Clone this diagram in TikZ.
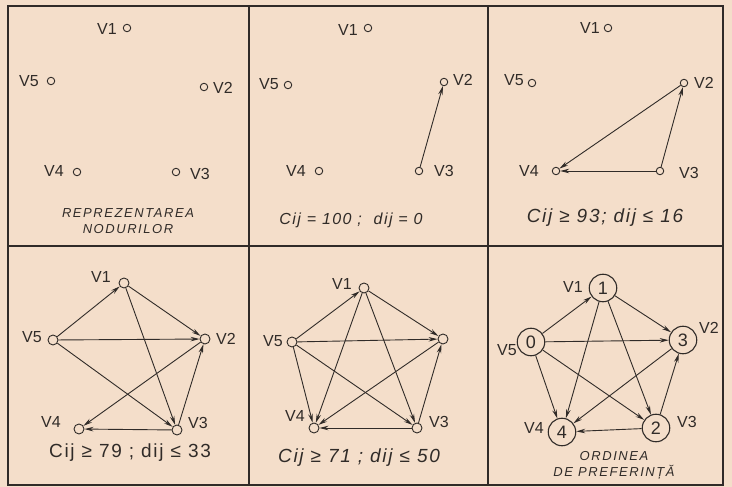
\documentclass[tikz,border=0pt]{standalone}
\usepackage{fontspec}
\setmainfont{Liberation Sans}
\newfontfamily\capfont[LetterSpace=12]{Liberation Sans}
\newfontfamily\formfont[LetterSpace=9]{Liberation Sans}
\usetikzlibrary{arrows.meta}
\definecolor{paper}{RGB}{244,222,202}
\definecolor{ink}{RGB}{48,43,40}
\tikzset{
 pt/.style={circle,draw=ink,line width=0.9pt,inner sep=0pt,minimum size=7.5pt,fill=paper},
 ptb/.style={pt,minimum size=10pt},
 big/.style={circle,draw=ink,line width=1.1pt,inner sep=0pt,minimum size=27.5pt,fill=paper,font=\fontsize{18}{18}\selectfont,text=ink},
 lbl/.style={text=ink,inner sep=0pt,font=\fontsize{16}{16}\selectfont},
 arr/.style={draw=ink,line width=0.9pt,-{Stealth[length=9pt,width=4.5pt]}},
 captext/.style={text=ink,font=\capfont\itshape\fontsize{13}{16}\selectfont,align=center},
 form/.style={text=ink,font=\formfont\itshape\fontsize{19}{19}\selectfont},
 frame/.style={draw=ink,line width=2pt}
}
\begin{document}
\begin{tikzpicture}[x=1pt,y=-1pt]
\fill[paper] (0,0) rectangle (732,487);
\useasboundingbox (0,0) rectangle (732,487);
% frame
\draw[frame] (8,6) rectangle (723,485);
\draw[frame] (8,246) -- (723,246);
\draw[frame] (249,6) -- (249,485);
\draw[frame] (488,6) -- (488,485);

% ---------- panel 1
\node[pt] (a1) at (127,28) {};
\node[pt] (a5) at (51,81) {};
\node[pt] (a2) at (204,87) {};
\node[pt] (a4) at (77,172) {};
\node[pt] (a3) at (176,172) {};
\node[lbl] (la1) at (107,29) {V1};
\node[lbl] (la5) at (29,81) {V5};
\node[lbl] (la2) at (223,88) {V2};
\node[lbl] (la4) at (54,171) {V4};
\node[lbl] (la3) at (200,174) {V3};
\node[captext] (capa) at (128,221) {REPREZENTAREA\\NODURILOR};

% ---------- panel 2
\node[pt] (b1) at (368,28) {};
\node[pt] (b5) at (288,85) {};
\node[pt] (b2) at (444,82) {};
\node[pt] (b4) at (319,171) {};
\node[pt] (b3) at (419,171) {};
\node[lbl] (lb1) at (348,30) {V1};
\node[lbl] (lb5) at (269,84) {V5};
\node[lbl] (lb2) at (463,80) {V2};
\node[lbl] (lb4) at (296,171) {V4};
\node[lbl] (lb3) at (444,171) {V3};
\draw[arr] (b3) -- (b2);
\node[form,font=\formfont\itshape\fontsize{16}{16}\selectfont] (fb) at (351,220) {Cij = 100 ;\ \ dij = 0};

% ---------- panel 3
\node[pt] (c1) at (608,28) {};
\node[pt] (c5) at (532,83) {};
\node[pt] (c2) at (684,83) {};
\node[pt] (c4) at (556,171) {};
\node[pt] (c3) at (660,171) {};
\node[lbl] (lc1) at (590,28) {V1};
\node[lbl] (lc5) at (514,80) {V5};
\node[lbl] (lc2) at (704,83) {V2};
\node[lbl] (lc4) at (529,171) {V4};
\node[lbl] (lc3) at (689,173) {V3};
\draw[arr] (c3) -- (c2);
\draw[arr] (c2) -- (c4);
\draw[arr] (c3) -- (c4);
\node[form] (fc) at (605,218) {Cij ≥ 93; dij ≤ 16};

% ---------- panel 4
\node[ptb] (d1) at (124,283) {};
\node[ptb] (d5) at (53,340) {};
\node[ptb] (d2) at (205,339) {};
\node[ptb] (d4) at (79,429) {};
\node[ptb] (d3) at (177,430) {};
\node[lbl] (ld1) at (101,277) {V1};
\node[lbl] (ld5) at (32,337) {V5};
\node[lbl] (ld2) at (226,339) {V2};
\node[lbl] (ld4) at (51,422) {V4};
\node[lbl] (ld3) at (198,423) {V3};
\draw[arr] (d5) -- (d1);
\draw[arr] (d1) -- (d2);
\draw[arr] (d5) -- (d2);
\draw[arr] (d1) -- (d3);
\draw[arr] (d5) -- (d3);
\draw[arr] (d3) -- (d2);
\draw[arr] (d2) -- (d4);
\draw[arr] (d3) -- (d4);
\node[form,font=\formfont\fontsize{19}{19}\selectfont] (fd) at (130,453) {Cij ≥ 79 ; dij ≤ 33};

% ---------- panel 5
\node[ptb] (e1) at (364,288) {};
\node[ptb] (e5) at (292,342) {};
\node[ptb] (e2) at (443,339) {};
\node[ptb] (e4) at (314,428) {};
\node[ptb] (e3) at (417,428) {};
\node[lbl] (le1) at (342,284) {V1};
\node[lbl] (le5) at (273,341) {V5};
\node[lbl] (le4) at (295,416) {V4};
\node[lbl] (le3) at (439,422) {V3};
\draw[arr] (e5) -- (e1);
\draw[arr] (e1) -- (e2);
\draw[arr] (e5) -- (e2);
\draw[arr] (e1) -- (e3);
\draw[arr] (e1) -- (e4);
\draw[arr] (e5) -- (e4);
\draw[arr] (e5) -- (e3);
\draw[arr] (e3) -- (e2);
\draw[arr] (e2) -- (e4);
\draw[arr] (e3) -- (e4);
\node[form] (fe) at (359,458) {Cij ≥ 71 ;\ dij ≤ 50};

% ---------- panel 6
\node[big] (f1) at (603,288) {1};
\node[big] (f5) at (531,342) {0};
\node[big] (f2) at (683,340) {3};
\node[big] (f4) at (562,432) {4};
\node[big] (f3) at (656,428) {2};
\node[lbl] (lf1) at (573,287) {V1};
\node[lbl] (lf5) at (507,350) {V5};
\node[lbl] (lf2) at (709,328) {V2};
\node[lbl] (lf4) at (534,428) {V4};
\node[lbl] (lf3) at (687,422) {V3};
\draw[arr] (f5) -- (f1);
\draw[arr] (f1) -- (f2);
\draw[arr] (f5) -- (f2);
\draw[arr] (f1) -- (f3);
\draw[arr] (f1) -- (f4);
\draw[arr] (f5) -- (f4);
\draw[arr] (f5) -- (f3);
\draw[arr] (f3) -- (f2);
\draw[arr] (f2) -- (f4);
\draw[arr] (f3) -- (f4);
\node[captext] (capf) at (614,465) {ORDINEA\\DE PREFERINȚĂ};
\end{tikzpicture}
\end{document}
